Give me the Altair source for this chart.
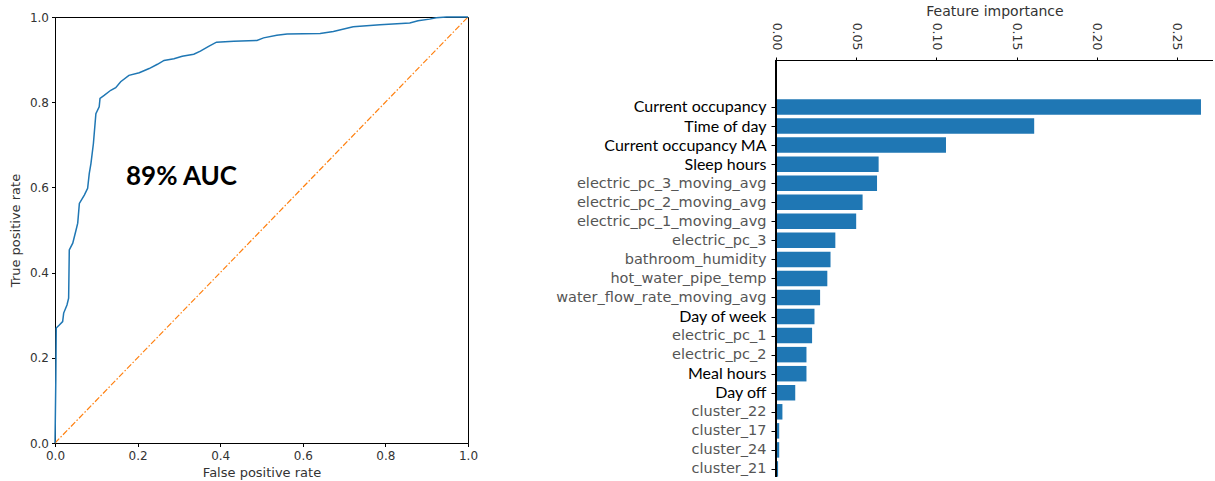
import altair as alt
import pandas as pd

# ROC curve points (false positive rate, true positive rate)
roc_fpr = [0.0, 0.002, 0.003, 0.0105, 0.0185, 0.021, 0.029, 0.033, 0.0346, 0.043,
           0.051, 0.055, 0.059, 0.071, 0.079, 0.083, 0.087, 0.093, 0.099, 0.107,
           0.109, 0.119, 0.135, 0.147, 0.159, 0.179, 0.204, 0.228, 0.248, 0.264,
           0.288, 0.308, 0.336, 0.352, 0.372, 0.391, 0.433, 0.489, 0.505, 0.537,
           0.562, 0.642, 0.674, 0.722, 0.787, 0.859, 0.879, 0.907, 0.923, 0.948, 1.0]
roc_tpr = [0.0, 0.15, 0.27, 0.277, 0.285, 0.305, 0.324, 0.34, 0.453, 0.469,
           0.50, 0.516, 0.5625, 0.582, 0.598, 0.633, 0.656, 0.703, 0.773, 0.789,
           0.809, 0.816, 0.828, 0.834, 0.848, 0.863, 0.869, 0.879, 0.889, 0.898,
           0.902, 0.908, 0.9125, 0.920, 0.931, 0.941, 0.943, 0.945, 0.951, 0.957,
           0.960, 0.961, 0.966, 0.977, 0.982, 0.986, 0.991, 0.995, 0.998, 1.0, 1.0]
chance_line = [0.0, 1.0]
auc_text = "89% AUC"
auc_pos = (0.172, 0.606)

# Feature importances, most important first
features = ["Current occupancy", "Time of day", "Current occupancy MA", "Sleep hours",
            "electric_pc_3_moving_avg", "electric_pc_2_moving_avg",
            "electric_pc_1_moving_avg", "electric_pc_3", "bathroom_humidity",
            "hot_water_pipe_temp", "water_flow_rate_moving_avg", "Day of week",
            "electric_pc_1", "electric_pc_2", "Meal hours", "Day off",
            "cluster_22", "cluster_17", "cluster_24", "cluster_21"]
importance = [0.265, 0.161, 0.106, 0.064, 0.063, 0.054, 0.050, 0.037, 0.034, 0.032,
              0.0275, 0.024, 0.0225, 0.019, 0.019, 0.012, 0.004, 0.002, 0.002, 0.0013]
# labels written over in a darker typeface
relabelled = ["Current occupancy", "Time of day", "Current occupancy MA", "Sleep hours",
              "Day of week", "Meal hours", "Day off"]

BLUE = "#1f77b4"
ORANGE = "#ff7f0e"
MPL_FONT = "DejaVu Sans"

roc_df = pd.DataFrame({"fpr": roc_fpr, "tpr": roc_tpr, "step": list(range(len(roc_fpr)))})
diag_df = pd.DataFrame({"fpr": chance_line, "tpr": chance_line})
auc_df = pd.DataFrame({"fpr": [auc_pos[0]], "tpr": [auc_pos[1]], "label": [auc_text]})

ticks01 = [0.0, 0.2, 0.4, 0.6, 0.8, 1.0]
x_roc = alt.X("fpr:Q", scale=alt.Scale(domain=[0, 1], nice=False),
              axis=alt.Axis(title="False positive rate", values=ticks01, format=".1f",
                            labelPadding=4, titlePadding=5))
y_roc = alt.Y("tpr:Q", scale=alt.Scale(domain=[0, 1], nice=False),
              axis=alt.Axis(title="True positive rate", values=ticks01, format=".1f",
                            titlePadding=7))

roc_line = alt.Chart(roc_df).mark_line(color=BLUE, strokeWidth=1.5).encode(
    x=x_roc, y=y_roc, order="step:Q")
diag = alt.Chart(diag_df).mark_line(color=ORANGE, strokeWidth=1.2,
                                    strokeDash=[6, 2, 1.5, 2]).encode(x="fpr:Q", y="tpr:Q")
auc = alt.Chart(auc_df).mark_text(font="Lato", fontWeight="bold", fontSize=26,
                                  align="left", baseline="alphabetic", color="black").encode(
    x="fpr:Q", y="tpr:Q", text="label:N")

roc = alt.layer(diag, roc_line, auc).properties(
    width=413, height=426,
    view=alt.ViewBackground(stroke="black", strokeWidth=1),
)

# feature importance bars; the index scale leaves headroom above the first bar,
# and the top axis sits below that headroom
fi_df = pd.DataFrame({"feature": features, "imp": importance, "idx": list(range(len(features)))})
label_lookup = "[" + ",".join("'" + f + "'" for f in features) + "][datum.value]"
dark_idx = [features.index(f) for f in relabelled]
dark_test = " || ".join(f"datum.value == {i}" for i in dark_idx)

IDX_TOP = -4.724     # top of the panel
IDX_AXIS = -2.467    # where the importance axis is drawn
IDX_BOTTOM = 19.423
AXIS_DROP = 43       # pixels between panel top and importance axis
IMP_MAX = 0.2725

imp_scale = alt.Scale(domain=[0, IMP_MAX], nice=False, zero=True)
x_fi = alt.X("imp:Q", scale=imp_scale,
             axis=alt.Axis(orient="top", title="Feature importance", offset=-AXIS_DROP,
                           values=[0.0, 0.05, 0.10, 0.15, 0.20, 0.25], format=".2f",
                           labelAngle=90, labelFontSize=12.5, tickSize=3, labelPadding=7,
                           titleFontSize=14, titlePadding=4))
idx_scale = alt.Scale(domain=[IDX_TOP, IDX_BOTTOM], reverse=True, nice=False, zero=False, padding=0)
idx_axis = alt.Axis(title=None, values=list(range(len(features))), labelExpr=label_lookup,
                    domain=False, tickSize=5, labelPadding=5, labelLimit=0, labelOverlap=False,
                    labelColor={"condition": {"test": dark_test, "value": "black"}, "value": "#555"},
                    labelFont={"condition": {"test": dark_test, "value": "Lato"}, "value": MPL_FONT},
                    labelFontSize={"condition": {"test": dark_test, "value": 16}, "value": 14.5})

bars = alt.Chart(fi_df).mark_bar(size=15.5, color=BLUE).encode(
    x=x_fi, x2=alt.datum(0), y=alt.Y("idx:Q", scale=idx_scale, axis=idx_axis))
# left spine, running from the importance axis downwards
spine = alt.Chart(fi_df).mark_rule(color="black", strokeWidth=1).encode(
    x=alt.XDatum(0, scale=imp_scale),
    y=alt.YDatum(IDX_AXIS, scale=idx_scale, axis=idx_axis),
    y2=alt.datum(IDX_BOTTOM))

fi = alt.layer(bars, spine).properties(width=437, height=460)

chart = alt.hconcat(roc, fi, spacing=76).properties(
    padding={"left": 8, "top": 4, "right": 0, "bottom": 0}
).configure_view(strokeWidth=0).configure_axis(
    grid=False, labelFont=MPL_FONT, labelFontSize=12, labelColor="#333",
    titleFont=MPL_FONT, titleFontSize=13, titleColor="#333", titleFontWeight="normal",
    domainColor="black", tickColor="black", tickSize=3.5, labelPadding=3, labelFlush=False
)

chart.save("out.html", embed_options={"renderer": "svg", "actions": False})
